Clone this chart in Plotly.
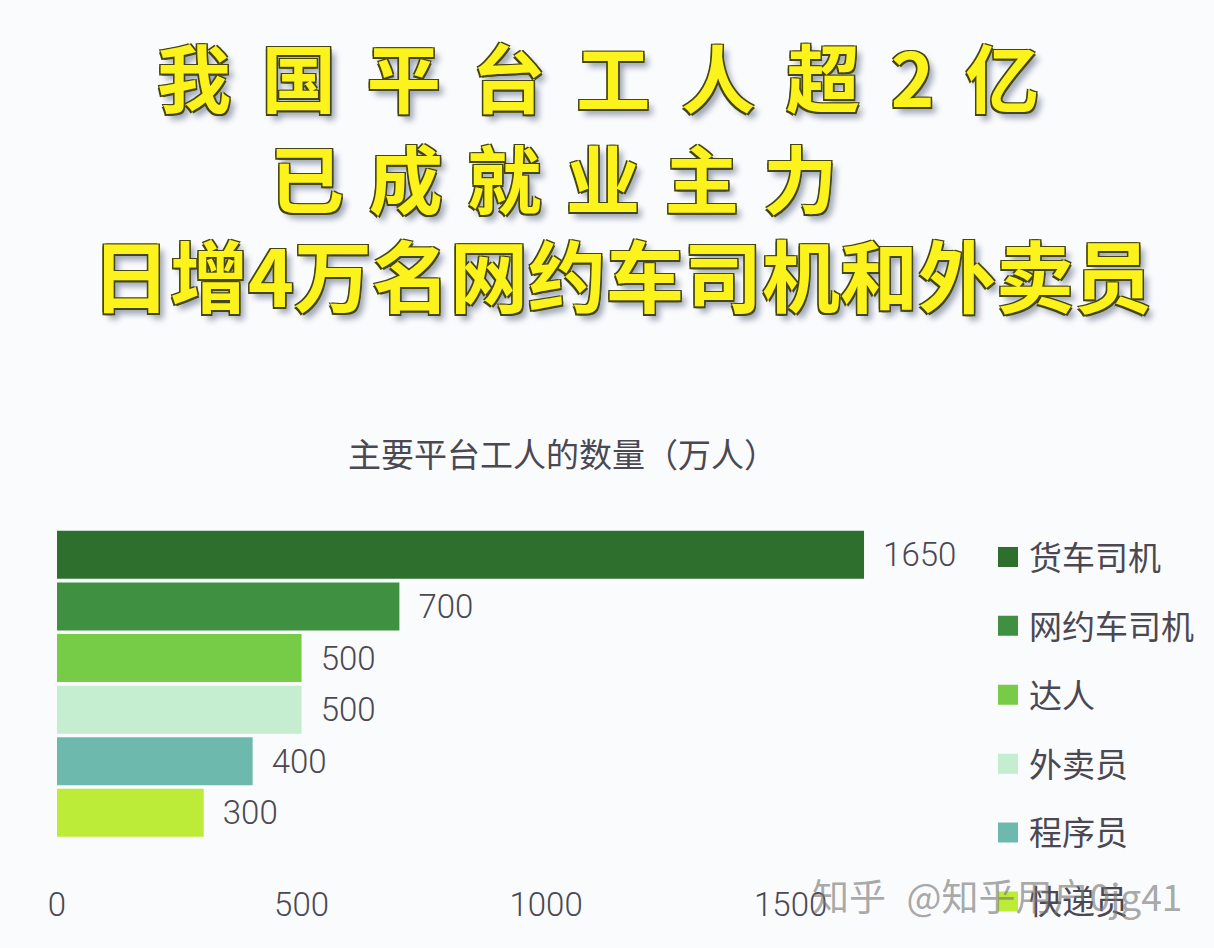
import plotly.graph_objects as go

# Values
categories = ["货车司机", "网约车司机", "达人", "外卖员", "程序员", "快递员"]
workers = [1650, 700, 500, 500, 400, 300]
colors = ["#2f6f2e", "#3f9040", "#76cc47", "#c4eecf", "#6db9ae", "#bdec38"]
x_ticks = [0, 500, 1000, 1500]
headline = ["我\u2005\u2006国\u2005\u2006平\u2005\u2006台\u2005\u2006工\u2005\u2006人\u2005\u2006超\u2005\u20062\u2005\u2006亿",
            "已\u2004成\u2004就\u2004业\u2004主\u2004力",
            "日增4万名网约车司机和外卖员"]
chart_title = "主要平台工人的数量（万人）"
watermark = "知乎\u2004 @知乎用户0jg41"

W, H = 1214, 948
TEXT = "#4b4852"
CJK = "Noto Sans CJK SC"


def paper_text(text, cx, cy, font):
    fig.add_annotation(text=text, x=cx / W, y=1 - cy / H, xref="paper", yref="paper", showarrow=False,
                       xanchor="center", yanchor="middle", font=font)


fig = go.Figure()

# Bars, one trace per category
for cat, val, col in zip(categories, workers, colors):
    fig.add_trace(go.Bar(x=[val], y=[cat], orientation="h", marker=dict(color=col, line_width=0),
                         text=[val], texttemplate="  %{text}", textposition="outside", cliponaxis=False,
                         textfont=dict(family="Roboto", size=33, color=TEXT, weight=300), showlegend=False))

# Legend entries with a larger swatch than bars get
for cat, col in zip(categories, colors):
    fig.add_trace(go.Scatter(x=[None], y=[None], mode="markers", name=cat, legendgroup=cat,
                             marker=dict(symbol="square", size=16, color=col, line=dict(width=4, color=col))))

# Yellow outlined headline
outline = ("-1.5px -1.5px 0 #45450f, 1.5px -1.5px 0 #45450f, -1.5px 1.5px 0 #45450f, "
           "1.5px 1.5px 0 #45450f, 5px 6px 6px #9aa3b3")
for line, cx, cy, size in zip(headline, [598, 553, 622], [74, 176, 273], [74, 74, 78]):
    paper_text(line, cx, cy, dict(family=CJK, size=size, color="#fdf31c", weight=700, shadow=outline))

paper_text(chart_title, 562, 453, dict(family=CJK, size=33, color=TEXT))
paper_text(watermark, 997, 895, dict(family=CJK, size=37, color="rgba(120,120,120,0.65)"))

fig.update_layout(
    width=W, height=H, margin=dict(l=0, r=0, t=0, b=0, autoexpand=False),
    paper_bgcolor="#fafbfd", plot_bgcolor="rgba(0,0,0,0)", barmode="overlay", bargap=0.07,
    legend=dict(x=987 / W, y=1 - 529 / H, xanchor="left", yanchor="top", tracegroupgap=23,
                font=dict(family=CJK, size=33, color=TEXT), bgcolor="rgba(0,0,0,0)", itemwidth=32),
)
fig.update_xaxes(domain=[57 / W, 1000 / W], range=[0, 1928], tickvals=x_ticks, showgrid=False, zeroline=False,
                 showline=False, ticks="", automargin=False,
                 tickfont=dict(family="Roboto", size=33, color=TEXT, weight=300))
fig.update_yaxes(domain=[1 - 882 / H, 1 - 529 / H], range=[6.34, -0.5], categoryorder="array", automargin=False,
                 categoryarray=categories, showticklabels=False, showgrid=False, zeroline=False, showline=False)

# The page's default margin would push the figure off by 8px
fig.write_html("out.html", config=dict(displayModeBar=False), post_script="document.body.style.margin='0';")
